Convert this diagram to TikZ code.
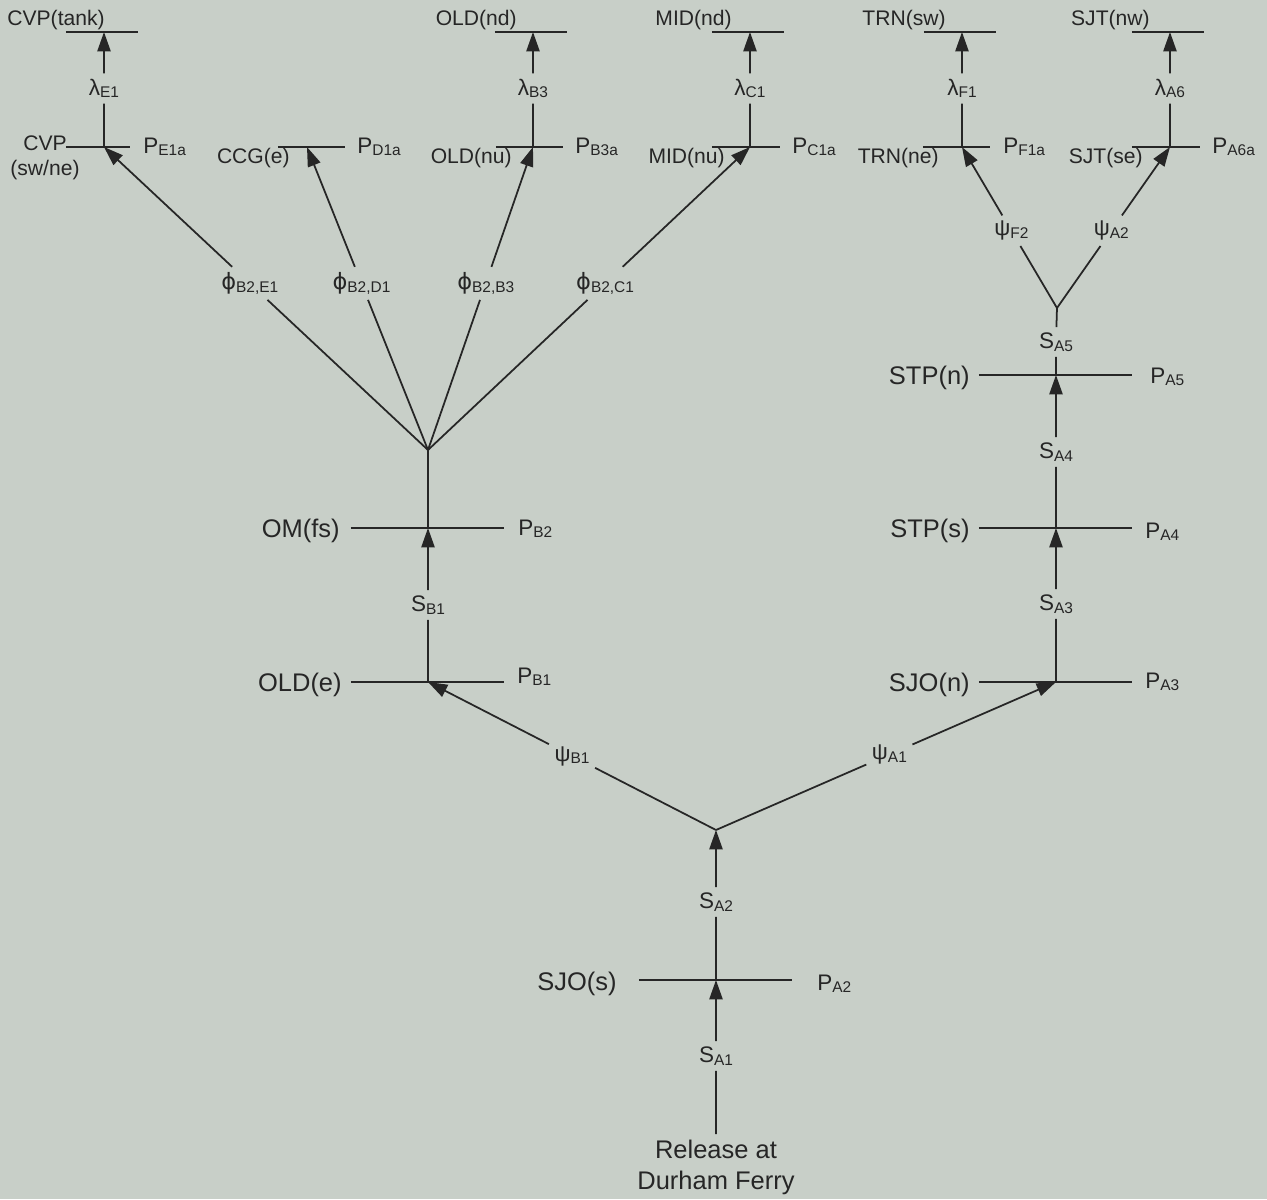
\documentclass[tikz,border=0pt]{standalone}
\usepackage{fontspec}
\setmainfont{Liberation Sans}
\newfontfamily\phifont{DejaVu Sans}
\usetikzlibrary{arrows.meta,calc}
\definecolor{paper}{RGB}{200,207,200}
\definecolor{ink}{RGB}{38,38,38}
\newcommand{\subl}[2]{#1\raisebox{-1.5pt}{\fontsize{8.8}{9}\selectfont #2}}
\begin{document}
\begin{tikzpicture}[scale=0.2]
	\tikzstyle{every node}+=[inner sep=0pt, text=ink]
	\tikzstyle{big}=[font=\fontsize{14.5}{17.6}\selectfont]
	\tikzstyle{small}=[font=\fontsize{12}{13}\selectfont]
	\tikzstyle{par}=[font=\fontsize{12.8}{14}\selectfont]
	\tikzstyle{rate}=[par, inner sep=3pt]
	\tikzstyle{arr}=[-{Triangle[length=11pt,width=7.5pt]}]
	\tikzstyle{link}=[draw=ink, line width=1pt]
	\fill [paper] (0,0) rectangle (126.7,-119.9);
	\useasboundingbox (0,0) rectangle (126.7,-119.9);
	% junctions
	\coordinate (jA) at (71.6,-83.0);
	\coordinate (fanB) at (42.8,-45.0);
	\coordinate (forkA) at (105.7,-30.8);
	% lower stations
	\coordinate (stA2) at (71.6,-98.0);
	\coordinate (stB1) at (42.8,-68.2);
	\coordinate (stB2) at (42.8,-52.8);
	\coordinate (stA3) at (105.6,-68.2);
	\coordinate (stA4) at (105.6,-52.8);
	\coordinate (stA5) at (105.6,-37.5);
	\foreach \s in {stA2,stB1,stB2,stA3,stA4,stA5}
		\draw [link] (\s) ++(-7.7,0) -- ++(15.3,0);
	% upper stations
	\coordinate (tE1) at (10.4,-14.7);
	\coordinate (tD1) at (30.7,-14.7);
	\coordinate (tB3) at (53.3,-14.7);
	\coordinate (tC1) at (75.0,-14.7);
	\coordinate (tF1) at (96.2,-14.7);
	\coordinate (tA6) at (117.0,-14.7);
	\foreach \s/\l/\r in {tE1/3.8/2.6,tD1/2.9/3.8,tB3/3.7/3.0,tC1/3.8/3.0,tF1/3.9/2.8,tA6/3.8/3.0}
		\draw [link] (\s) ++(-\l,0) -- ++(\l+\r,0);
	% exits
	\coordinate (eE1) at (10.4,-3.2);
	\coordinate (eB3) at (53.3,-3.2);
	\coordinate (eC1) at (75.0,-3.2);
	\coordinate (eF1) at (96.2,-3.2);
	\coordinate (eA6) at (117.0,-3.2);
	\foreach \s in {eE1,eB3,eC1,eF1,eA6}
		\draw [link] (\s) ++(-3.8,0) -- ++(7.2,0);

	% station names
	\node [big] (rel) at (71.6,-116.7) [align=center, inner sep=3pt] {Release at\\Durham Ferry};
	\node [big, anchor=base east] (nA2) at (61.7,-99.0) {SJO(s)};
	\node [big, anchor=base east] (nB1) at (34.2,-69.1) {OLD(e)};
	\node [big, anchor=base east] (nB2) at (34.0,-53.7) {OM(fs)};
	\node [big, anchor=base east] (nA3) at (97.0,-69.1) {SJO(n)};
	\node [big, anchor=base east] (nA4) at (97.0,-53.7) {STP(s)};
	\node [big, anchor=base east] (nA5) at (97.0,-38.4) {STP(n)};
	\node [small, align=center] (nE1) at (4.5,-15.8) {CVP\\[1pt](sw/ne)};
	\node [small, anchor=base east] (nD1) at (29.0,-16.3) {CCG(e)};
	\node [small, anchor=base east] (nB3) at (51.2,-16.3) {OLD(nu)};
	\node [small, anchor=base east] (nC1) at (72.5,-16.3) {MID(nu)};
	\node [small, anchor=base east] (nF1) at (93.9,-16.3) {TRN(ne)};
	\node [small, anchor=base east] (nA6) at (114.3,-16.3) {SJT(se)};
	\node [small, anchor=base east] (xE1) at (10.5,-2.5) {CVP(tank)};
	\node [small, anchor=base east] (xB3) at (51.7,-2.5) {OLD(nd)};
	\node [small, anchor=base east] (xC1) at (73.2,-2.5) {MID(nd)};
	\node [small, anchor=base east] (xF1) at (94.6,-2.5) {TRN(sw)};
	\node [small, anchor=base east] (xA6) at (115.0,-2.5) {SJT(nw)};

	% detection probabilities
	\node [par, anchor=base west] (PA2) at (81.7,-99.0) {\subl{P}{A2}};
	\node [par, anchor=base west] (PB1) at (51.7,-68.3) {\subl{P}{B1}};
	\node [par, anchor=base west] (PB2) at (51.8,-53.5) {\subl{P}{B2}};
	\node [par, anchor=base west] (PA3) at (114.5,-68.8) {\subl{P}{A3}};
	\node [par, anchor=base west] (PA4) at (114.5,-53.8) {\subl{P}{A4}};
	\node [par, anchor=base west] (PA5) at (115.0,-38.3) {\subl{P}{A5}};
	\node [par, anchor=base west] (PE1) at (14.3,-15.3) {\subl{P}{E1a}};
	\node [par, anchor=base west] (PD1) at (35.7,-15.3) {\subl{P}{D1a}};
	\node [par, anchor=base west] (PB3) at (57.5,-15.3) {\subl{P}{B3a}};
	\node [par, anchor=base west] (PC1) at (79.2,-15.3) {\subl{P}{C1a}};
	\node [par, anchor=base west] (PF1) at (100.3,-15.3) {\subl{P}{F1a}};
	\node [par, anchor=base west] (PA6) at (121.2,-15.3) {\subl{P}{A6a}};

	% survival and route labels
	\node [rate] (SA1) at (71.6,-105.6) {\subl{S}{A1}};
	\node [rate] (SA2) at (71.6,-90.2) {\subl{S}{A2}};
	\node [rate] (SB1) at (42.8,-60.5) {\subl{S}{B1}};
	\node [rate] (SA3) at (105.6,-60.4) {\subl{S}{A3}};
	\node [rate] (SA4) at (105.6,-45.2) {\subl{S}{A4}};
	\node [rate] (SA5) at (105.6,-34.2) {\subl{S}{A5}};
	\path (jA) -- (stB1) node [rate, pos=0.5] (psB1) {\subl{ψ}{B1}};
	\path (jA) -- (stA3) node [rate, pos=0.51] (psA1) {\subl{ψ}{A1}};
	\path (forkA) -- (tF1) node [rate, pos=0.48] (psF2) {\subl{ψ}{F2}};
	\path (forkA) -- (tA6) node [rate, pos=0.48] (psA2) {\subl{ψ}{A2}};
	\foreach \t in {E1,D1,B3,C1}
		\path (fanB) -- (t\t) node [rate, pos=0.55] (ph\t) {\subl{{\phifont ϕ}}{B2,\t}};
	\foreach \t in {E1,B3,C1,F1,A6}
		\node [rate] (l\t) at ($(t\t)!0.5!(e\t)+(0,0.1)$) {\subl{λ}{\t}};

	% connectors
	\draw [link] (rel) -- (SA1);
	\draw [link, arr] (SA1) -- (stA2);
	\draw [link] (stA2) -- (SA2);
	\draw [link, arr] (SA2) -- (jA);
	\draw [link] (jA) -- (psB1);
	\draw [link, arr] (psB1) -- (stB1);
	\draw [link] (jA) -- (psA1);
	\draw [link, arr] (psA1) -- (stA3);
	\draw [link] (stB1) -- (SB1);
	\draw [link, arr] (SB1) -- (stB2);
	\draw [link] (stB2) -- (fanB);
	\foreach \t in {E1,D1,B3,C1} {
		\draw [link] (fanB) -- (ph\t);
		\draw [link, arr] (ph\t) -- (t\t);
	}
	\draw [link] (stA3) -- (SA3);
	\draw [link, arr] (SA3) -- (stA4);
	\draw [link] (stA4) -- (SA4);
	\draw [link, arr] (SA4) -- (stA5);
	\draw [link] (stA5) -- (SA5);
	\draw [link] (SA5) -- (forkA);
	\draw [link] (forkA) -- (psF2);
	\draw [link, arr] (psF2) -- (tF1);
	\draw [link] (forkA) -- (psA2);
	\draw [link, arr] (psA2) -- (tA6);
	\foreach \t in {E1,B3,C1,F1,A6} {
		\draw [link] (t\t) -- (l\t);
		\draw [link, arr] (l\t) -- (e\t);
	}
\end{tikzpicture}
\end{document}
